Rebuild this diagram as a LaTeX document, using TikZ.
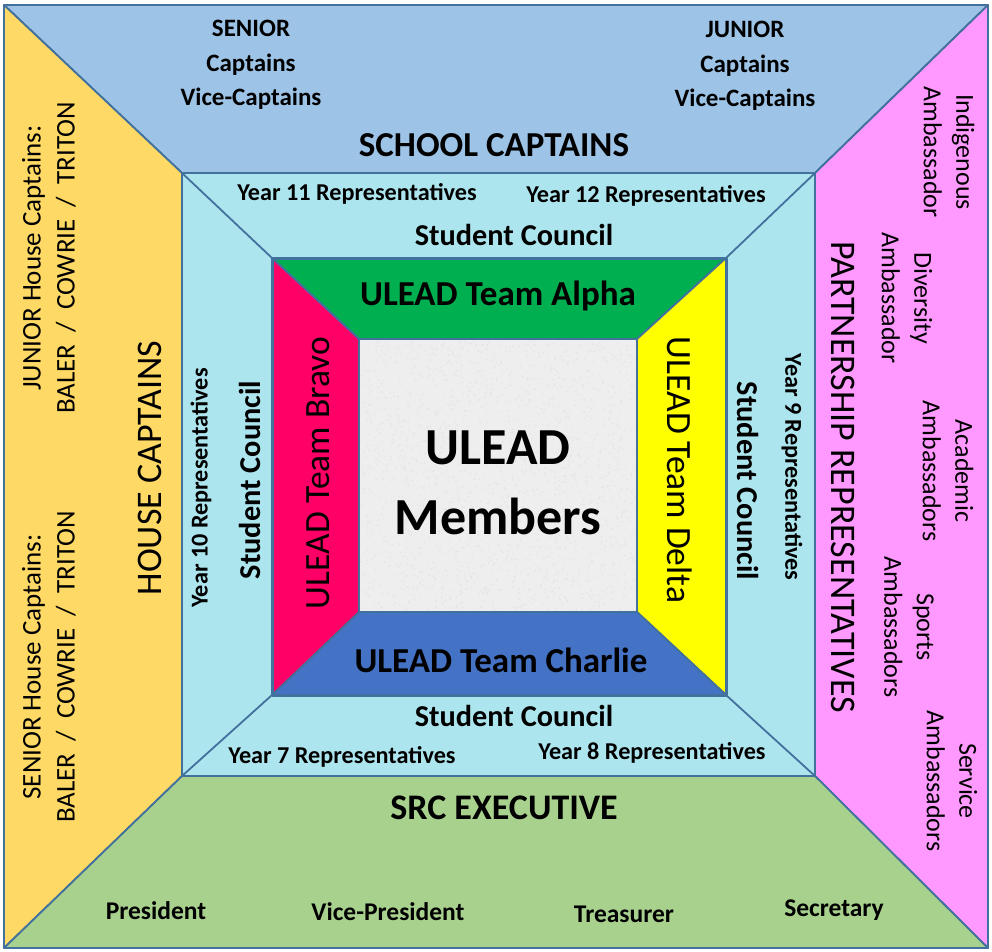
\documentclass[tikz,border=0pt]{standalone}
\usepackage{fontspec}
\setmainfont{Carlito}
\definecolor{topblue}{HTML}{9DC3E6}
\definecolor{houseyel}{HTML}{FFD966}
\definecolor{partpink}{HTML}{FF99FF}
\definecolor{srcgreen}{HTML}{A9D18E}
\definecolor{band}{HTML}{ADE5EE}
\definecolor{alphag}{HTML}{00B050}
\definecolor{bravor}{HTML}{FF0066}
\definecolor{deltay}{HTML}{FFFF00}
\definecolor{charlieb}{HTML}{4472C4}
\definecolor{centerg}{HTML}{EEEEEE}
\definecolor{edgec}{HTML}{41719C}
\begin{document}
\begin{tikzpicture}[x=1pt,y=-1pt,
  edge/.style={draw=edgec, line width=1.8pt, line join=round},
  txt/.style={inner sep=0pt, align=center, text=black},
  bigb/.style={txt, font=\fontsize{35}{40}\selectfont\bfseries},
  srcb/.style={txt, font=\fontsize{36}{40}\selectfont\bfseries},
  bigr/.style={txt, font=\fontsize{36}{40}\selectfont},
  teamr/.style={txt, font=\fontsize{35.5}{40}\selectfont},
  capb/.style={txt, font=\fontsize{25}{34.5}\selectfont\bfseries},
  councilb/.style={txt, font=\fontsize{30.3}{34}\selectfont\bfseries},
  repb/.style={txt, font=\fontsize{24.2}{28}\selectfont\bfseries},
  execb/.style={txt, font=\fontsize{25.5}{30}\selectfont\bfseries},
  membersb/.style={txt, font=\fontsize{52}{70}\selectfont\bfseries},
  sider/.style={txt, font=\fontsize{27}{34}\selectfont},
  ambr/.style={txt, font=\fontsize{26}{32.5}\selectfont}]
\useasboundingbox (0,0) rectangle (992,951);
\fill[white] (0,0) rectangle (992,951);
% corner coordinates
\coordinate (O1) at (4,5);     \coordinate (O2) at (988,5);
\coordinate (O3) at (988,948); \coordinate (O4) at (4,948);
\coordinate (M1) at (182,173); \coordinate (M2) at (815,173);
\coordinate (M3) at (815,776); \coordinate (M4) at (182,776);
\coordinate (I1) at (272,258); \coordinate (I2) at (726,258);
\coordinate (I3) at (726,695); \coordinate (I4) at (272,695);
\coordinate (C1) at (359,339); \coordinate (C2) at (637,339);
\coordinate (C3) at (637,612); \coordinate (C4) at (359,612);
% outer ring
\filldraw[edge, fill=topblue]  (O1)--(O2)--(M2)--(M1)--cycle;
\filldraw[edge, fill=houseyel] (O1)--(M1)--(M4)--(O4)--cycle;
\filldraw[edge, fill=partpink] (O2)--(O3)--(M3)--(M2)--cycle;
\filldraw[edge, fill=srcgreen] (O4)--(M4)--(M3)--(O3)--cycle;
% student council band
\filldraw[edge, fill=band] (M1)--(M2)--(M3)--(M4)--cycle;
\draw[edge] (M1)--(I1) (M2)--(I2) (M3)--(I3) (M4)--(I4);
% ULEAD teams
\filldraw[edge, fill=alphag]   (I1)--(I2)--(C2)--(C1)--cycle;
\filldraw[edge, fill=deltay]   (I2)--(I3)--(C3)--(C2)--cycle;
\filldraw[edge, fill=charlieb] (I4)--(I3)--(C3)--(C4)--cycle;
\filldraw[edge, fill=bravor]   (I1)--(I4)--(C4)--(C1)--cycle;
\draw[edge, line width=3pt] (I1)--(I2)--(I3)--(I4)--cycle;
% centre
\fill[centerg] (C1) rectangle (C3);
\pgfmathsetseed{7}
\foreach \i in {1,...,1800} {\fill[black!10] ({361+274*rnd},{341+269*rnd}) circle (0.9);}
\draw[edge, line width=2.4pt] (C1)--(C2)--(C3)--(C4)--cycle;
% top texts
\node[capb] (senior) at (251,65) {SENIOR\\Captains\\Vice-Captains};
\node[capb] (junior) at (745,66) {JUNIOR\\Captains\\Vice-Captains};
\node[bigb] (school) at (494,145) {SCHOOL CAPTAINS};
\node[repb] (y11) at (357,194) {Year 11 Representatives};
\node[repb] (y12) at (646,196) {Year 12 Representatives};
\node[councilb] (sctop) at (514,235) {Student Council};
\node[bigb] (alpha) at (498,296) {ULEAD Team Alpha};
\node[membersb] (members) at (498,483) {ULEAD\\Members};
\node[bigb] (charlie) at (501,660) {ULEAD Team Charlie};
\node[councilb] (scbot) at (514,716) {Student Council};
\node[repb] (y7) at (342,757) {Year 7 Representatives};
\node[repb] (y8) at (652,753) {Year 8 Representatives};
\node[srcb] (src) at (504,808) {SRC EXECUTIVE};
\node[execb] (pres) at (156,911) {President};
\node[execb] (vpres) at (388,912) {Vice-President};
\node[execb] (treas) at (624,914) {Treasurer};
\node[execb] (secr) at (834,910) {Secretary};
% left side
\node[bigr, rotate=90] (house) at (150,468) {HOUSE CAPTAINS};
\node[sider, rotate=90] (junhouse) at (49,258) {JUNIOR\ House Captains:\\BALER\ \ /\ \ COWRIE\ \ /\ \ TRITON};
\node[sider, rotate=90] (senhouse) at (49,667) {SENIOR House Captains:\\BALER\ \ /\ \ COWRIE\ \ /\ \ TRITON};
\node[repb, rotate=90] (y10) at (201,488) {Year 10 Representatives};
\node[councilb, rotate=90] (scleft) at (250,480) {Student Council};
\node[teamr, rotate=90] (bravo) at (318,473) {ULEAD Team Bravo};
% right side
\node[teamr, rotate=-90] (delta) at (680,470) {ULEAD Team Delta};
\node[councilb, rotate=-90] (scright) at (748,481) {Student Council};
\node[repb, rotate=-90] (y9) at (792,467) {Year 9 Representatives};
\node[bigr, rotate=-90] (partner) at (843,477) {PARTNERSHIP REPRESENTATIVES};
\node[ambr, rotate=-90] (indig) at (949,152) {Indigenous\\Ambassador};
\node[ambr, rotate=-90] (divers) at (907,298) {Diversity\\Ambassador};
\node[ambr, rotate=-90] (acad) at (948,471) {Academic\\Ambassadors};
\node[ambr, rotate=-90] (sports) at (909,627) {Sports\\Ambassadors};
\node[ambr, rotate=-90] (service) at (952,781) {Service\\Ambassadors};
\end{tikzpicture}
\end{document}
